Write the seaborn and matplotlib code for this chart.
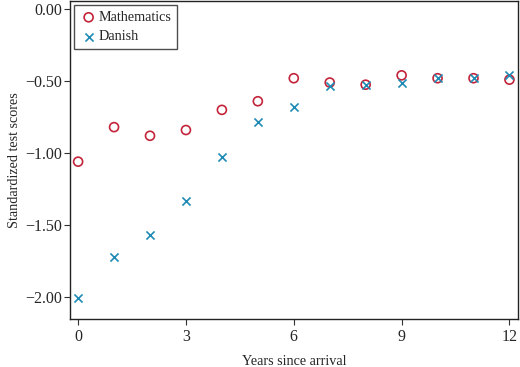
import pandas as pd
import matplotlib.pyplot as plt
import seaborn as sns

years = list(range(13))
math_scores = [-1.06, -0.82, -0.88, -0.84, -0.70, -0.64, -0.48, -0.51, -0.525, -0.46, -0.48, -0.48, -0.49]
danish_scores = [-2.01, -1.72, -1.57, -1.33, -1.03, -0.785, -0.68, -0.535, -0.53, -0.515, -0.48, -0.48, -0.46]
x_ticks = [0, 3, 6, 9, 12]
y_ticks = [0.0, -0.5, -1.0, -1.5, -2.0]

RED = "#c3243a"
BLUE = "#1f8bb5"

sns.set_style("ticks")
plt.rcParams["font.family"] = ["Liberation Serif", "DejaVu Serif"]

df = pd.DataFrame({"year": years, "math": math_scores, "danish": danish_scores})

fig, ax = plt.subplots(figsize=(5.2, 3.67), dpi=100)
fig.subplots_adjust(left=0.135, right=0.997, bottom=0.131, top=0.997)

sns.scatterplot(data=df, x="year", y="math", ax=ax, marker="o", s=42,
                facecolors="none", edgecolor=RED, linewidth=1.2, label="Mathematics")
sns.scatterplot(data=df, x="year", y="danish", ax=ax, marker="x", s=34,
                color=BLUE, linewidth=1.2, label="Danish")

ax.set_xlim(-0.22, 12.25)
ax.set_ylim(-2.153, 0.056)
ax.set_xticks(x_ticks)
ax.set_yticks(y_ticks)
ax.set_yticklabels([f"{v:.2f}".replace("-", "\u2212") for v in y_ticks])
ax.tick_params(labelsize=11.5, length=4.5, width=0.8, color="#333333")
ax.tick_params(axis="y", pad=1.5)
ax.tick_params(axis="x", pad=3)
for sp in ax.spines.values():
    sp.set_visible(True)
    sp.set_linewidth(1.0)
    sp.set_color("#222222")

ax.set_xlabel("Years since arrival", fontsize=10.2, labelpad=7)
ax.set_ylabel("Standardized test scores", fontsize=10.2, labelpad=3)

leg = ax.legend(loc="upper left", fontsize=10.2, frameon=True, fancybox=False,
                edgecolor="#222222", borderpad=0.4, handletextpad=0.1,
                borderaxespad=0.3, handlelength=1.2, labelspacing=0.45)
leg.get_frame().set_linewidth(1.0)

plt.savefig("out.png", dpi=100)
